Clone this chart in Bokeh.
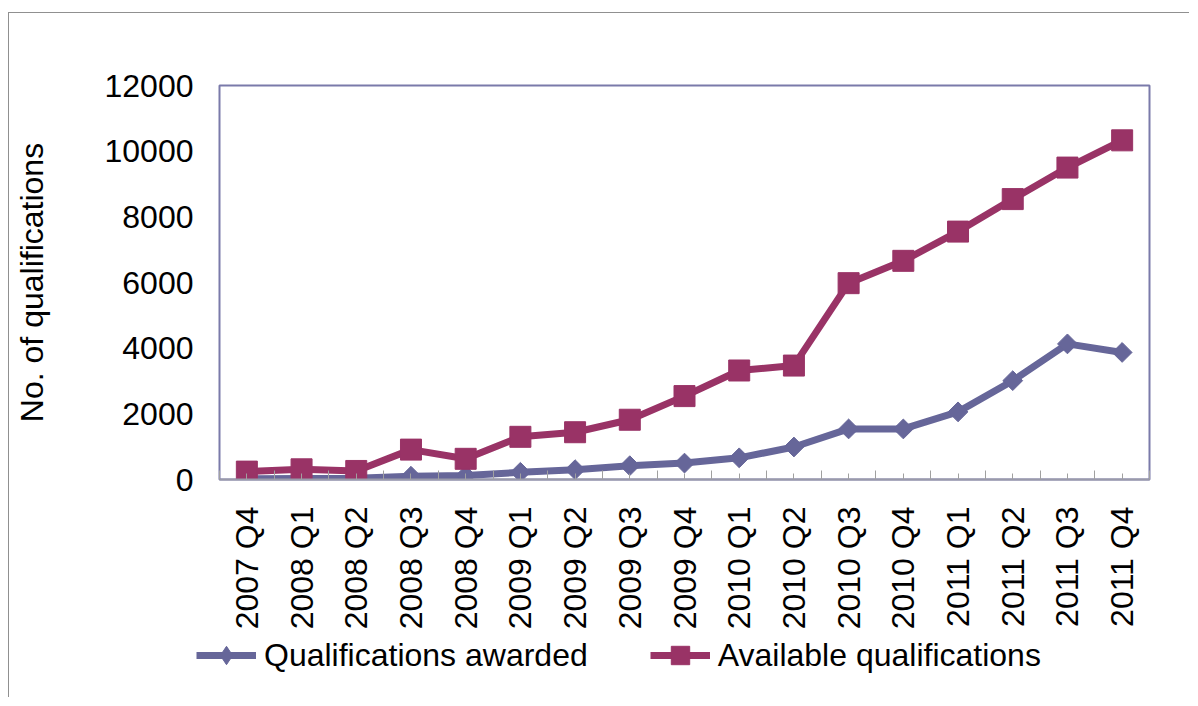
import math
from bokeh.plotting import figure
from bokeh.layouts import column
from bokeh.models import Range1d, FixedTicker, Legend, LegendItem
from bokeh.embed import file_html
from bokeh.resources import INLINE

categories = ["2007 Q4", "2008 Q1", "2008 Q2", "2008 Q3", "2008 Q4",
              "2009 Q1", "2009 Q2", "2009 Q3", "2009 Q4",
              "2010 Q1", "2010 Q2", "2010 Q3", "2010 Q4",
              "2011 Q1", "2011 Q2", "2011 Q3", "2011 Q4"]
awarded = [20, 30, 40, 100, 120, 220, 300, 420, 500, 660, 990, 1540, 1540, 2060, 3010, 4130, 3870]
available = [240, 310, 260, 910, 630, 1300, 1440, 1820, 2540, 3320, 3470, 5980, 6660, 7550, 8540, 9500, 10330]
y_ticks = [0, 2000, 4000, 6000, 8000, 10000, 12000]
series_names = ["Qualifications awarded", "Available qualifications"]

FONT = "Liberation Sans"
FS = "32px"
C_AW = "#666699"
C_AV = "#993366"

xs = list(range(len(categories)))

p = figure(width=1180, height=619, output_backend="svg", toolbar_location=None,
           x_range=Range1d(-0.5, len(categories) - 0.5), y_range=Range1d(0, 12000),
           min_border_left=210, min_border_top=72, min_border_right=40, min_border_bottom=152,
           background_fill_color="white", border_fill_color="white")
p.frame_align = False

p.outline_line_color = "#7a7aaa"
p.outline_line_width = 2
p.xgrid.visible = False
p.ygrid.visible = False

# x axis
xa = p.xaxis[0]
xa.ticker = FixedTicker(ticks=xs, minor_ticks=[i - 0.5 for i in range(len(categories) + 1)])
xa.major_label_overrides = {i: c for i, c in enumerate(categories)}
xa.major_label_orientation = math.pi / 2
xa.major_label_standoff = 27
xa.major_label_text_font = FONT
xa.major_label_text_font_size = FS
xa.major_label_text_color = "black"
xa.major_tick_in = 6
xa.major_tick_out = 0
xa.minor_tick_in = 9
xa.minor_tick_out = 0
xa.major_tick_line_color = "#a0a0a0"
xa.minor_tick_line_color = "#a0a0a0"
xa.axis_line_color = "#9a9aaa"
xa.axis_line_width = 2

# y axis
ya = p.yaxis[0]
ya.ticker = FixedTicker(ticks=y_ticks)
ya.major_label_standoff = 26
ya.major_label_text_font = FONT
ya.major_label_text_font_size = FS
ya.major_label_text_color = "black"
ya.major_tick_in = 0
ya.major_tick_out = 0
ya.minor_tick_line_color = None
ya.axis_line_color = None
ya.axis_label = "No. of qualifications"
ya.axis_label_text_font = FONT
ya.axis_label_text_font_size = FS
ya.axis_label_text_font_style = "normal"
ya.axis_label_text_color = "black"
ya.axis_label_standoff = 52

# main chart series
p.line(xs, awarded, line_color=C_AW, line_width=7)
p.scatter(xs, awarded, marker="square", angle=math.pi / 4, size=14,
          fill_color=C_AW, line_color=C_AW)
p.line(xs, available, line_color=C_AV, line_width=7)
p.scatter(xs, available, marker="square", size=21,
          fill_color=C_AV, line_color=C_AV)

# legend strip (own figure so the legend is not clipped by the plot area)
q = figure(width=1180, height=65, output_backend="svg", toolbar_location=None,
           x_range=Range1d(1000, 1001), y_range=Range1d(1000, 1001),
           x_axis_type=None, y_axis_type=None,
           min_border_left=0, min_border_right=0, min_border_top=0, min_border_bottom=0,
           background_fill_color="white", border_fill_color="white")
q.frame_align = False
q.outline_line_color = None
q.xgrid.visible = False
q.ygrid.visible = False
la = [q.line(xs, awarded, line_color=C_AW, line_width=7),
      q.scatter(xs, awarded, marker="diamond", size=20, fill_color=C_AW, line_color=C_AW)]
lb = [q.line(xs, available, line_color=C_AV, line_width=7),
      q.scatter(xs, available, marker="square", size=20, fill_color=C_AV, line_color=C_AV)]

legend = Legend(items=[LegendItem(label=series_names[0], renderers=la),
                       LegendItem(label=series_names[1], renderers=lb)],
                location=(187, 19), orientation="horizontal",
                label_text_font=FONT, label_text_font_size=FS, label_text_color="black",
                glyph_width=60, glyph_height=46, label_standoff=8, spacing=62,
                padding=0, margin=0, border_line_color=None, background_fill_alpha=0)
q.add_layout(legend, "center")

layout = column(p, q, spacing=0)
layout.margin = (12, 0, 0, 8)
layout.styles = {"border-left": "1px solid #909090", "border-top": "1px solid #909090"}

open("out.html", "w").write(file_html(layout, INLINE))
